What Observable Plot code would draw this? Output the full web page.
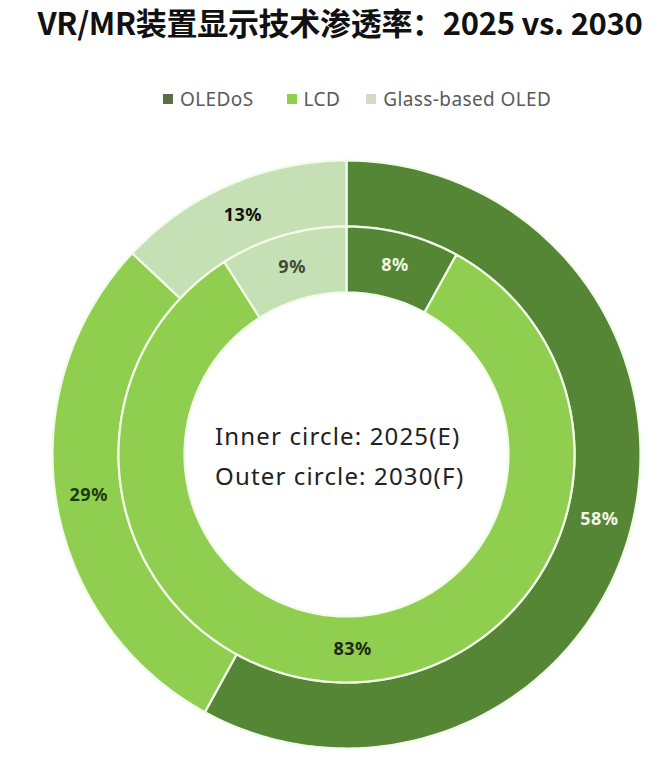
<!DOCTYPE html>
<html>
<head>
<meta charset="utf-8">
<script src="https://cdn.jsdelivr.net/npm/d3@7"></script>
<script src="https://cdn.jsdelivr.net/npm/@observablehq/plot@0.6"></script>
<style>
  html, body { margin: 0; padding: 0; background: #fff; }
  #wrap { position: relative; width: 660px; height: 759px; overflow: hidden; font-family: "Noto Sans", "Open Sans", sans-serif; }
  #title { position: absolute; top: 0px; left: 0; width: 680px; text-align: center; font-family: "Noto Sans CJK SC", "Noto Sans", sans-serif; font-weight: 700; font-size: 31px; line-height: 44px; color: #111; letter-spacing: -0.3px; }
  #legend { position: absolute; top: 86px; left: 163px; display: flex; align-items: center; font-size: 19px; letter-spacing: 0.4px; color: #5a5a5a; line-height: 26px; }
  #legend .item { display: flex; align-items: center; }
  #legend .sw { width: 10px; height: 10px; margin-right: 7px; }
  #chart { position: absolute; top: 155px; left: 0; }
  #center { position: absolute; left: 215px; top: 416px; font-size: 24px; letter-spacing: 1.15px; line-height: 40px; color: #222; font-family: "Noto Sans", "Open Sans", sans-serif; }
</style>
</head>
<body>
<div id="wrap">
  <div id="title">VR/MR装置显示技术渗透率：2025 vs. 2030</div>
  <div id="legend"></div>
  <div id="chart"></div>
  <div id="center">Inner circle: 2025(E)<br>Outer circle: 2030(F)</div>
</div>
<script>
const categories = ["OLEDoS", "LCD", "Glass-based OLED"];
const inner2025 = [8, 83, 9];
const outer2030 = [58, 29, 13];
const colors = ["#558636", "#90CE50", "#C5E0B4"];
const legendSwatch = ["#5d6d45", "#90CE50", "#d3dcc9"];
const innerLabelColors = ["#eef7e6", "#1c2a14", "#3f4a38"];
const outerLabelColors = ["#eef7e6", "#1c3a12", "#111"];

// legend
const legend = document.getElementById("legend");
const gaps = [33, 26, 0];
categories.forEach((c, i) => {
  const it = document.createElement("div");
  it.className = "item";
  it.style.marginRight = gaps[i] + "px";
  it.innerHTML = `<span class="sw" style="background:${legendSwatch[i]}"></span><span>${c}</span>`;
  legend.appendChild(it);
});

const R_OUT = 294, R_MID = 228, R_IN = 162;

function ringSlices(values, r0, r1, labelColors) {
  const total = d3.sum(values);
  let acc = 0;
  const slices = [], labels = [];
  values.forEach((v, i) => {
    const a0 = acc / total * 2 * Math.PI;
    acc += v;
    const a1 = acc / total * 2 * Math.PI;
    const n = Math.max(2, Math.ceil((a1 - a0) / (Math.PI / 180)));
    const pts = [];
    for (let k = 0; k <= n; k++) {
      const a = a0 + (a1 - a0) * k / n;
      pts.push({x: r1 * Math.sin(a), y: r1 * Math.cos(a)});
    }
    for (let k = n; k >= 0; k--) {
      const a = a0 + (a1 - a0) * k / n;
      pts.push({x: r0 * Math.sin(a), y: r0 * Math.cos(a)});
    }
    slices.push({pts, color: colors[i]});
    const am = (a0 + a1) / 2, rm = (r0 + r1) / 2;
    labels.push({x: rm * Math.sin(am), y: rm * Math.cos(am), text: v + "%", color: labelColors[i]});
  });
  return {slices, labels};
}

const inner = ringSlices(inner2025, R_IN, R_MID, innerLabelColors);
const outer = ringSlices(outer2030, R_MID, R_OUT, outerLabelColors);

const sep = "#f3fbea";
const marks = [];
[...outer.slices, ...inner.slices].forEach(s => {
  marks.push(Plot.line(s.pts, {x: "x", y: "y", curve: "linear-closed", fill: s.color, stroke: sep, strokeWidth: 2.2}));
});
const labels = [...outer.labels, ...inner.labels];
marks.push(Plot.text(labels, {x: "x", y: "y", text: "text", fill: d => d.color, fontSize: 18, fontWeight: "bold"}));

const chart = Plot.plot({
  width: 660,
  height: 600,
  margin: 0,
  x: {domain: [-346, 314], range: [0, 660], axis: null},
  y: {domain: [-301, 299], range: [600, 0], axis: null},
  style: {fontFamily: "'Noto Sans', 'Open Sans', sans-serif", background: "transparent", letterSpacing: "0.5px"},
  marks
});
document.getElementById("chart").appendChild(chart);
</script>
</body>
</html>
